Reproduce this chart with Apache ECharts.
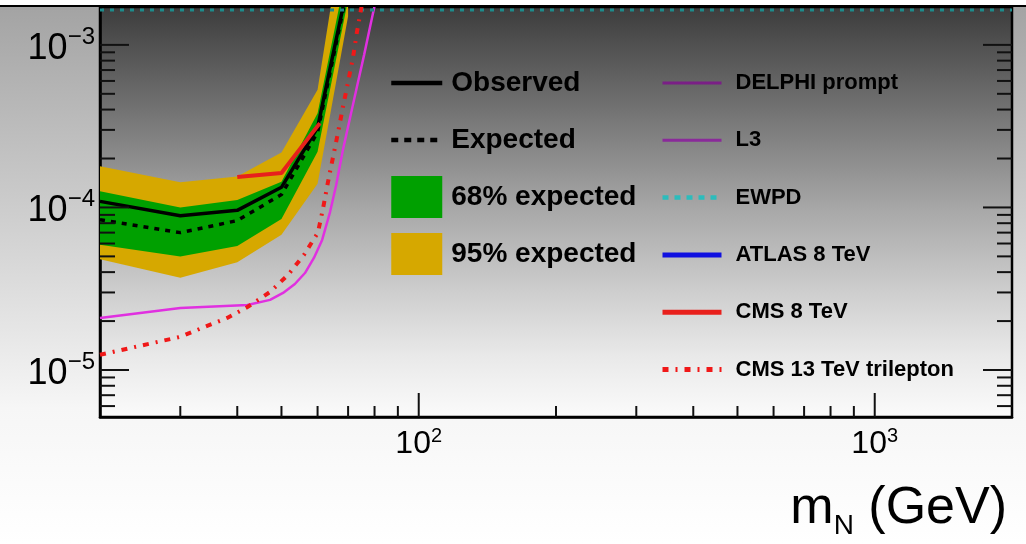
<!DOCTYPE html>
<html>
<head>
<meta charset="utf-8">
<script src="https://cdn.jsdelivr.net/npm/echarts@6/dist/echarts.min.js"></script>
<style>
  html, body { margin: 0; padding: 0; background: #fff; }
  #chart { width: 1026px; height: 544px; }
</style>
</head>
<body>
<div id="chart"></div>
<script>
// axis ranges
const xMin = 20, xMax = 2000;
const yMin = 5.14e-6, yMax = 1.71e-3;

// mass points of the limit (GeV)
const massPoints = [20, 30, 40, 50, 60, 70];
const observed = [1.09e-4, 8.9e-5, 9.6e-5, 1.33e-4, 3.1e-4, 2.4e-3];
const expected = [8.4e-5, 7.0e-5, 8.3e-5, 1.2e-4, 2.9e-4, 2.3e-3];
const band68Up = [1.26e-4, 1.0e-4, 1.11e-4, 1.44e-4, 3.8e-4, 3.2e-3];
const band68Down = [5.9e-5, 5.0e-5, 5.8e-5, 8.5e-5, 2.2e-4, 1.9e-3];
const band95Up = [1.79e-4, 1.43e-4, 1.55e-4, 2.18e-4, 5.3e-4, 8.0e-3];
const band95Down = [4.8e-5, 3.7e-5, 4.6e-5, 6.8e-5, 1.4e-4, 1.5e-3];

// other results
const cms8Mass = [40, 50, 60.7];
const cms8Limit = [1.54e-4, 1.63e-4, 3.3e-4];
const cms13Mass = [20, 30, 33.4, 38, 42.1, 47.2, 51.7, 56, 60.1, 61.7, 63.2, 64.9, 66.5, 68.2, 70, 71.8, 73.2, 74.7, 76];
const cms13Limit = [1.24e-5, 1.6e-5, 1.81e-5, 2.09e-5, 2.44e-5, 3.02e-5, 3.85e-5, 5.1e-5, 7.0e-5, 9.9e-5, 1.42e-4, 2.05e-4, 2.87e-4, 4.15e-4, 5.92e-4, 8.44e-4, 1.2e-3, 1.64e-3, 2.2e-3];
const delphiMass = [20, 30, 42.1, 47.2, 50.4, 53.5, 56.3, 58.9, 61.4, 63.9, 65.9, 68.2, 70.7, 73.2, 75.9, 78.2, 80.2];
const delphiLimit = [2.09e-5, 2.41e-5, 2.51e-5, 2.7e-5, 2.98e-5, 3.38e-5, 3.95e-5, 4.89e-5, 6.31e-5, 9.37e-5, 1.37e-4, 2.26e-4, 3.56e-4, 5.52e-4, 8.68e-4, 1.29e-3, 1.79e-3];
const ewpdMass = [20, 2000];
const ewpdLimit = [1.64e-3, 1.64e-3];

// tick marks
const xMajorTicks = [100, 1000];
const xMinorTicks = [30, 40, 50, 60, 70, 80, 90, 200, 300, 400, 500, 600, 700, 800, 900];
const yMajorTicks = [1e-5, 1e-4, 1e-3];
const yMinorTicks = [6e-6, 7e-6, 8e-6, 9e-6, 2e-5, 3e-5, 4e-5, 5e-5, 6e-5, 7e-5, 8e-5, 9e-5,
  2e-4, 3e-4, 4e-4, 5e-4, 6e-4, 7e-4, 8e-4, 9e-4];

const font = '"Liberation Sans", Arial, Helvetica, sans-serif';

function pairs(xs, ys) {
  return xs.map((x, i) => [x, ys[i]]);
}

function powerLabel(value) {
  const e = Math.log10(value);
  const r = Math.round(e);
  if (Math.abs(e - r) > 1e-6) return '';
  return '{b|10}{s|' + String(r).replace('-', '\u2212') + '}';
}

function band(name, color, up, down) {
  return {
    name: name,
    type: 'custom',
    clip: true,
    silent: true,
    itemStyle: { color: color },
    data: [[massPoints[0], up[0]]],
    renderItem: function (params, api) {
      const top = massPoints.map((m, i) => api.coord([m, up[i]]));
      const bot = massPoints.map((m, i) => api.coord([m, down[i]])).reverse();
      return { type: 'polygon', shape: { points: top.concat(bot) }, style: { fill: color } };
    }
  };
}

const chart = echarts.init(document.getElementById('chart'), null, { renderer: 'canvas' });

const option = {
  animation: false,
  backgroundColor: new echarts.graphic.LinearGradient(0, 0, 0, 1, [
    { offset: 0, color: '#a2a2a2' },
    { offset: 0.45, color: '#d4d4d4' },
    { offset: 0.75, color: '#f6f6f6' },
    { offset: 1, color: '#ffffff' }
  ]),
  graphic: [
    { type: 'rect', shape: { x: 0, y: 0, width: 1026, height: 6 }, style: { fill: '#fff' }, z: 100 },
    { type: 'line', shape: { x1: 0, y1: 6, x2: 1026, y2: 6 }, style: { stroke: '#000', lineWidth: 2 }, z: 100 }
  ],
  title: {
    text: '{m|m}{n|N}{g| (GeV)}',
    right: 14,
    top: 478,
    textStyle: {
      rich: {
        m: { fontFamily: font, fontSize: 52, fontWeight: 'normal', color: '#000' },
        n: { fontFamily: font, fontSize: 28, fontWeight: 'normal', color: '#000', verticalAlign: 'bottom', padding: [0, 0, -5, 0] },
        g: { fontFamily: font, fontSize: 52, fontWeight: 'normal', color: '#000' }
      }
    }
  },
  grid: {
    left: 100, right: 14, top: 7, bottom: 127,
    show: true,
    borderColor: '#000',
    borderWidth: 2.5,
    backgroundColor: new echarts.graphic.LinearGradient(0, 0, 0, 1, [
      { offset: 0, color: '#3c3c3c' },
      { offset: 0.25, color: '#727272' },
      { offset: 0.5, color: '#a9a9a9' },
      { offset: 0.7, color: '#cfcfcf' },
      { offset: 0.85, color: '#e9e9e9' },
      { offset: 1, color: '#fbfbfb' }
    ])
  },
  xAxis: {
    type: 'log',
    min: xMin,
    max: xMax,
    axisLine: { show: true, lineStyle: { color: '#000', width: 2.5 } },
    axisTick: { show: false },
    splitLine: { show: false },
    axisLabel: {
      margin: 9,
      formatter: powerLabel,
      showMinLabel: false,
      showMaxLabel: false,
      rich: {
        b: { fontFamily: font, fontSize: 32, color: '#000', lineHeight: 36 },
        s: { fontFamily: font, fontSize: 20, color: '#000', verticalAlign: 'top', lineHeight: 20 }
      }
    }
  },
  yAxis: {
    type: 'log',
    min: yMin,
    max: yMax,
    axisLine: { show: true, lineStyle: { color: '#000', width: 2.5 } },
    axisTick: { show: false },
    splitLine: { show: false },
    axisLabel: {
      margin: 5,
      formatter: powerLabel,
      showMinLabel: false,
      showMaxLabel: false,
      rich: {
        b: { fontFamily: font, fontSize: 36, color: '#000', lineHeight: 40, padding: [8, 0, 0, 0] },
        s: { fontFamily: font, fontSize: 24, color: '#000', verticalAlign: 'top', lineHeight: 24 }
      }
    }
  },
  legend: [
    {
      orient: 'vertical',
      left: 389, top: 62,
      padding: 0,
      itemWidth: 51, itemHeight: 42, itemGap: 15,
      textStyle: { fontFamily: font, fontSize: 28, fontWeight: 'bold', color: '#000', lineHeight: 42, padding: [0, 0, 0, 4] },
      data: [
        { name: 'Observed', itemStyle: { opacity: 0 }, lineStyle: { width: 4.5 } },
        { name: 'Expected', itemStyle: { opacity: 0 }, lineStyle: { width: 4.5, type: [7, 6] } },
        { name: '68% expected', icon: 'rect' },
        { name: '95% expected', icon: 'rect' }
      ]
    },
    {
      orient: 'vertical',
      left: 660, top: 72,
      padding: 0,
      itemWidth: 59, itemHeight: 20, itemGap: 35.3,
      textStyle: { fontFamily: font, fontSize: 22, fontWeight: 'bold', color: '#000', lineHeight: 20, padding: [0, 0, 0, 9] },
      data: [
        { name: 'DELPHI prompt', itemStyle: { opacity: 0 }, lineStyle: { color: '#7a1f86', width: 3 } },
        { name: 'L3', itemStyle: { opacity: 0 }, lineStyle: { width: 3 } },
        { name: 'EWPD', itemStyle: { opacity: 0 }, lineStyle: { color: '#2cbcbc', width: 4.5, type: [6, 6] } },
        { name: 'ATLAS 8 TeV', itemStyle: { opacity: 0 }, lineStyle: { width: 5 } },
        { name: 'CMS 8 TeV', itemStyle: { opacity: 0 }, lineStyle: { width: 5 } },
        { name: 'CMS 13 TeV trilepton', itemStyle: { opacity: 0 }, lineStyle: { width: 5, type: [6, 7, 2, 7] } }
      ]
    }
  ],
  series: [
    band('95% expected', '#d6a800', band95Up, band95Down),
    band('68% expected', '#00a000', band68Up, band68Down),
    {
      name: 'Expected', type: 'line', symbol: 'none', z: 3,
      lineStyle: { color: '#000', width: 3.5, type: [5, 6] },
      itemStyle: { color: '#000' },
      data: pairs(massPoints, expected)
    },
    {
      name: 'Observed', type: 'line', symbol: 'none', z: 3,
      lineStyle: { color: '#000', width: 3.5 },
      itemStyle: { color: '#000' },
      data: pairs(massPoints, observed)
    },
    {
      name: 'DELPHI prompt', type: 'line', symbol: 'none', z: 3,
      lineStyle: { color: '#e030e0', width: 2.5 },
      itemStyle: { color: '#e030e0' },
      data: pairs(delphiMass, delphiLimit)
    },
    {
      name: 'L3', type: 'line', symbol: 'none',
      lineStyle: { color: '#8a2a9a', width: 3 },
      itemStyle: { color: '#8a2a9a' },
      data: []
    },
    {
      name: 'EWPD', type: 'line', symbol: 'none', z: 3,
      lineStyle: { color: '#1d8c8c', width: 3, type: [4, 6] },
      itemStyle: { color: '#1d8c8c' },
      data: pairs(ewpdMass, ewpdLimit)
    },
    {
      name: 'ATLAS 8 TeV', type: 'line', symbol: 'none',
      lineStyle: { color: '#1010e0', width: 4.5 },
      itemStyle: { color: '#1010e0' },
      data: []
    },
    {
      name: 'CMS 8 TeV', type: 'line', symbol: 'none', z: 3,
      lineStyle: { color: '#e8201c', width: 4 },
      itemStyle: { color: '#e8201c' },
      data: pairs(cms8Mass, cms8Limit)
    },
    {
      name: 'CMS 13 TeV trilepton', type: 'line', symbol: 'none', z: 4,
      lineStyle: { color: '#f01818', width: 4, type: [6, 7, 2, 7] },
      itemStyle: { color: '#f01818' },
      data: pairs(cms13Mass, cms13Limit)
    },
    {
      // ROOT style inward ticks on left, right and bottom
      name: 'ticks', type: 'custom', silent: true, clip: false, z: 10,
      data: [[xMin, yMin]],
      renderItem: function (params, api) {
        const kids = [];
        const seg = (x1, y1, x2, y2) => kids.push({
          type: 'line', shape: { x1: x1, y1: y1, x2: x2, y2: y2 },
          style: { stroke: '#111', lineWidth: 2 }
        });
        xMajorTicks.forEach(v => { const p = api.coord([v, yMin]); seg(p[0], p[1], p[0], p[1] - 24); });
        xMinorTicks.forEach(v => { const p = api.coord([v, yMin]); seg(p[0], p[1], p[0], p[1] - 11); });
        yMajorTicks.forEach(v => {
          const l = api.coord([xMin, v]), r = api.coord([xMax, v]);
          seg(l[0], l[1], l[0] + 29, l[1]); seg(r[0], r[1], r[0] - 29, r[1]);
        });
        yMinorTicks.forEach(v => {
          const l = api.coord([xMin, v]), r = api.coord([xMax, v]);
          seg(l[0], l[1], l[0] + 15, l[1]); seg(r[0], r[1], r[0] - 15, r[1]);
        });
        return { type: 'group', children: kids };
      }
    }
  ]
};

chart.setOption(option);
</script>
</body>
</html>
